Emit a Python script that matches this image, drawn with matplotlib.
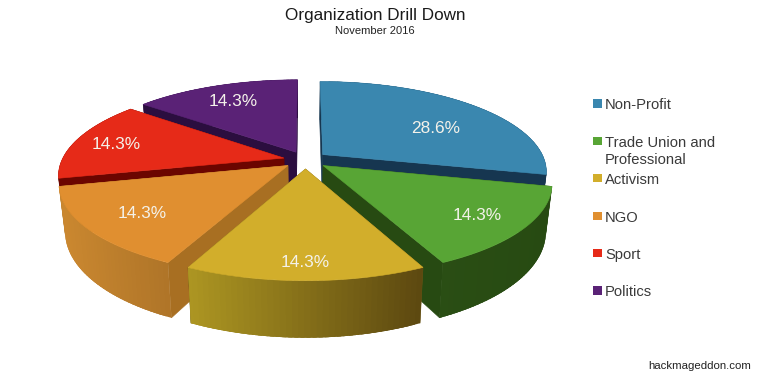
import numpy as np
import matplotlib
matplotlib.use("Agg")
import matplotlib.pyplot as plt
from matplotlib.collections import PolyCollection
from matplotlib.colors import to_rgb
from matplotlib.patches import Polygon, Rectangle

categories = ["Non-Profit", "Trade Union and\nProfessional", "Activism", "NGO", "Sport", "Politics"]
values = [28.6, 14.3, 14.3, 14.3, 14.3, 14.3]

top_colors = ["#3A87AF", "#58A535", "#D2AE2B", "#E08F30", "#E62A18", "#5A2276"]
radial_colors = ["#163650", "#274A12", "#6B5515", "#A86F22", "#6B0500", "#2B0E3F"]
outer_left = ["#163650", "#2A4E14", "#AD9622", "#CB8830", "#6B0500", "#2B0E3F"]
outer_right = ["#163650", "#274A12", "#5C4810", "#AE7428", "#6B0500", "#2B0E3F"]
legend_y = [105, 142.5, 179.5, 217.5, 254.5, 292]
label_radius = [0.747, 0.89, 0.95, 0.85, 0.905, 0.859]
label_turn = [-5.6, 0, 0, 0, 0, 0]
paint_order = [5, 0, 4, 3, 1, 2]

CX, CY, A, B, K = 305.5, 160, 222, 88, 0.18
EXPLODE, DEPTH, SHRINK = 0.1, 45.7, 0.975


def project(u, v, bottom=False):
    s = 1 / (1 + K * v)
    x = A * u * s
    y = CY - B * v * s
    if bottom:
        x = x * SHRINK
        y = y + DEPTH * s
    return CX + x, y


def mix(c1, c2, t):
    a, b = np.array(to_rgb(c1)), np.array(to_rgb(c2))
    return tuple(a + (b - a) * t)


fig = plt.figure(figsize=(7.6, 3.75), dpi=100, facecolor="white")
ax = fig.add_axes([0, 0, 1, 1])
ax.set_xlim(0, 760)
ax.set_ylim(375, 0)
ax.axis("off")
plt.rcParams["font.family"] = ["Liberation Sans", "DejaVu Sans"]

total = sum(values)
edges = 90 - np.concatenate([[0], np.cumsum(values)]) / total * 360
mids = (edges[:-1] + edges[1:]) / 2


def draw_slice(i):
    th0, th1 = np.radians(edges[i]), np.radians(edges[i + 1])
    m = np.radians(mids[i])
    du, dv = EXPLODE * np.cos(m), EXPLODE * np.sin(m)
    th = np.linspace(th0, th1, 120)
    u, v = np.cos(th) + du, np.sin(th) + dv
    tx, ty = project(u, v)
    bx, by = project(u, v, True)
    ax0, ay0 = project(du, dv)
    bx0, by0 = project(du, dv, True)

    for e in (0, -1):
        ax.add_patch(Polygon([(ax0, ay0), (tx[e], ty[e]), (bx[e], by[e]), (bx0, by0)],
                             closed=True, fc=radial_colors[i], ec=radial_colors[i], lw=0.4))
    # outer curved face, shaded across the screen; strips overlap so no seams show
    xmin, xmax = min(tx.min(), bx.min()), max(tx.max(), bx.max())
    polys, cols = [], []
    n = len(th)
    for j in range(0, n - 1, 3):
        k = min(j + 8, n - 1)
        polys.append(list(zip(tx[j:k + 1], ty[j:k + 1])) + list(zip(bx[j:k + 1], by[j:k + 1]))[::-1])
        t = ((tx[j] + tx[min(j + 3, n - 1)]) / 2 - xmin) / (xmax - xmin)
        cols.append(mix(outer_left[i], outer_right[i], t))
    ax.add_collection(PolyCollection(polys, facecolors=cols, edgecolors="none"))
    pts = [(ax0, ay0)] + list(zip(tx, ty))
    ax.add_patch(Polygon(pts, closed=True, fc=top_colors[i], ec=top_colors[i], lw=0.4))


for i in paint_order:
    draw_slice(i)

for i, val in enumerate(values):
    a = np.radians(mids[i] + label_turn[i])
    lx, ly = project(label_radius[i] * np.cos(a), label_radius[i] * np.sin(a))
    ax.text(lx, ly, f"{val:.1f}%", color="#F4F2EA", fontsize=12.4, ha="center", va="center_baseline")

for name, y, c in zip(categories, legend_y, top_colors):
    ax.add_patch(Rectangle((593, y - 6), 8.5, 8.5, fc=c, ec="none"))
    ax.text(605, y + (9 if "\n" in name else 0), name, color="#3A3A3A", fontsize=10.6,
            ha="left", va="center", linespacing=1.33)

ax.text(375, 20, "Organization Drill Down", fontsize=12.3, ha="center", va="baseline", color="#1A1A1A")
ax.text(375, 34, "November 2016", fontsize=8.0, ha="center", va="baseline", color="#222222")
ax.text(751, 369, "hackmageddon.com", fontsize=8.2, ha="right", va="baseline", color="#222222")

fig.savefig("out.png", dpi=100, facecolor="white")
